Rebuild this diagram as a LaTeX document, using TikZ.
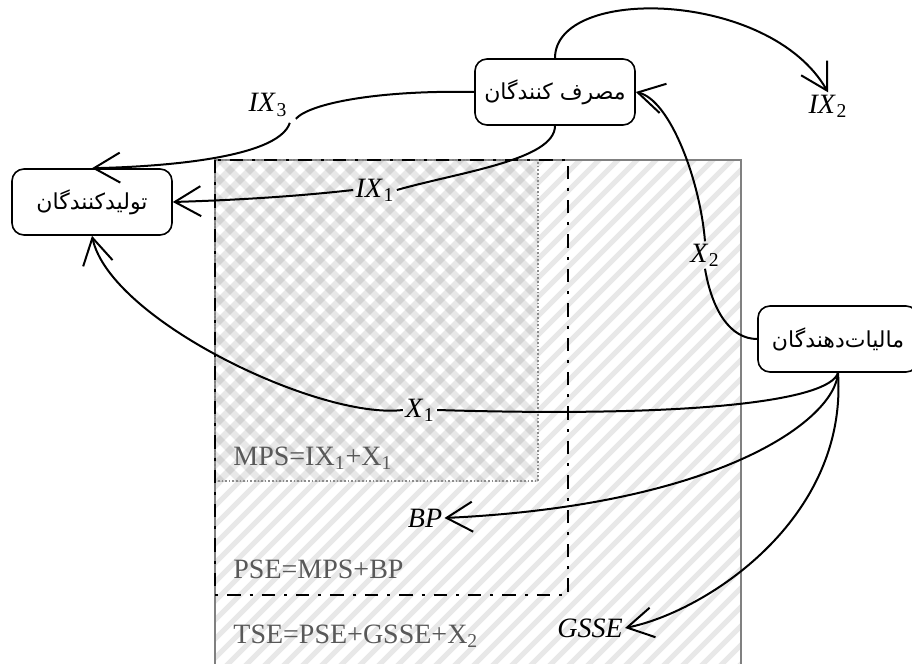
\documentclass[tikz,border=0pt]{standalone}
\usepackage{fontspec}
\setmainfont{Liberation Serif}
\newfontfamily\persianfont[Script=Arabic]{DejaVu Sans}
\TeXXeTstate=1
\usetikzlibrary{arrows.meta, positioning}

\newcommand{\subnum}[1]{\kern0.8pt\textsubscript{\upshape#1}}

\tikzset{
  agent/.style={draw, rounded corners=6pt, line width=0.8pt, minimum width=80pt, minimum height=33pt, font=\persianfont\fontsize{11}{13}\selectfont},
  flow/.style={line width=1pt, -{Straight Barb[length=13pt, width=15pt]}},
  plain/.style={line width=1pt},
  lab/.style={font=\fontsize{14}{16}\selectfont\itshape, inner sep=1pt},
  eqn/.style={font=\fontsize{14}{16}\selectfont, text=black!65, anchor=west, inner sep=0pt},
  stripe/.style={black, opacity=0.09, line width=2.6pt},
}

\begin{document}
\begin{tikzpicture}[x=0.5pt, y=-0.5pt]
    \useasboundingbox (0,0) rectangle (912,664);
    % Edges of the three areas
    \def\xL{215} % common left edge
    \def\yT{160} % common top edge
    \def\xMPS{538}
    \def\yMPS{481}
    \def\xPSE{568}
    \def\yPSE{595}
    \def\xTSE{741}

    % Stripes of the TSE area
    \begin{scope}
        \clip (\xL,\yT) rectangle (\xTSE,664);
        \foreach \c in {360,379,...,1440}
            \draw[stripe] (\c-700,700) -- (\c-100,100);
    \end{scope}

    % Cross hatching of the MPS area
    \begin{scope}
        \clip (\xL,\yT) rectangle (\xMPS,\yMPS);
        \fill[white] (\xL,\yT) rectangle (\xMPS,\yMPS);
        \foreach \c in {360,380,...,1040}
            \draw[stripe, line width=3.4pt] (\c-700,700) -- (\c-100,100);
        \foreach \c in {-280,-260,...,400}
            \draw[stripe, line width=3.4pt] (\c+100,100) -- (\c+600,600);
    \end{scope}

    % Borders
    \draw[gray, line width=0.6pt] (\xL,664) -- (\xL,\yT) -- (\xTSE,\yT) -- (\xTSE,664);
    \draw[gray!90, densely dotted, line width=0.8pt] (\xL,\yT) rectangle (\xMPS,\yMPS);
    \draw[line width=1.3pt, dash pattern=on 6.7pt off 4.5pt on 1.5pt off 4.5pt] (\xL,\yT) rectangle (\xPSE,\yPSE);

    % Sums
    \node[eqn] (mps) at (233,458) {MPS=IX\textsubscript{1}+X\textsubscript{1}};
    \node[eqn] (pse) at (233,569) {PSE=MPS+BP};
    \node[eqn] (tse) at (233,636) {TSE=PSE+GSSE+X\textsubscript{2}};

    % Agents
    \node[agent] (prod) at (92,202) {\beginR تولیدکنندگان\endR};
    \node[agent] (cons) at (555,92) {\beginR مصرف کنندگان\endR};
    \node[agent] (tax) at (838,339) {\beginR مالیات‌دهندگان\endR};

    % Flow labels
    \node[lab] (ix3) at (268,105) {IX\subnum{3}};
    \node[lab] (ix1) at (375,190) {IX\subnum{1}};
    \node[lab] (ix2) at (828,106) {IX\subnum{2}};
    \node[lab] (x2) at (705,255) {X\subnum{2}};
    \node[lab] (x1) at (420,410) {X\subnum{1}};
    \node[lab] (bp) at (425,518) {BP};
    \node[lab] (gsse) at (590,628) {GSSE};

    % Flows from the consumers
    \draw[flow] (cons.north) .. controls (555,-15) and (770,-10) .. (ix2.north);
    \draw[plain] (cons.west) .. controls (380,90) and (310,103) .. ([xshift=3pt]ix3.south east);
    \draw[flow] ([yshift=-2pt]ix3.south east) .. controls (278,160) and (150,167) .. (prod.north);
    \draw[plain] (cons.south) .. controls (555,160) and (460,172) .. (ix1.east);
    \draw[flow] (ix1.west) .. controls (300,196) and (240,200) .. (prod.east);

    % Flows from the taxpayers
    \draw[flow] (x2.north) .. controls (700,180) and (670,100) .. (cons.east);
    \draw[plain] (x2.south) .. controls (712,310) and (730,339) .. (tax.west);
    \draw[plain] (tax.south) .. controls (830,400) and (700,418) .. (x1.east);
    \draw[flow] (x1.west) .. controls (320,420) and (110,320) .. (prod.south);
    \draw[flow] (tax.south) .. controls (835,420) and (720,505) .. (bp.east);
    \draw[flow] (tax.south) .. controls (848,520) and (705,612) .. (gsse.east);
\end{tikzpicture}
\end{document}
